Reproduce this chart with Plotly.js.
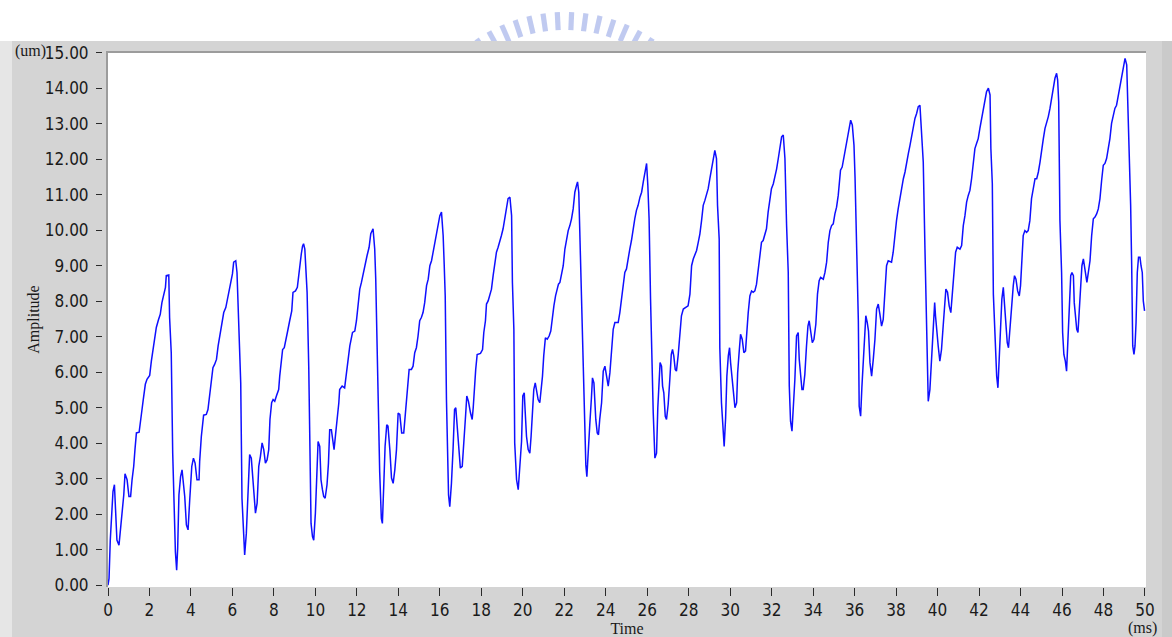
<!DOCTYPE html>
<html>
<head>
<meta charset="utf-8">
<script src="https://cdn.plot.ly/plotly-3.0.1.min.js"></script>
<style>
  html, body { margin: 0; padding: 0; background: #ffffff; }
  #chart { width: 1172px; height: 637px; }
</style>
</head>
<body>
<div id="chart"></div>
<script>
// Displacement record: time in ms, amplitude in um
const timeMs = [
  0.00, 0.05, 0.11, 0.18, 0.24, 0.31, 0.37, 0.43, 0.53, 0.59, 0.68, 0.76, 0.82, 0.92, 1.01, 1.09, 1.16, 1.24, 1.30, 1.37,
  1.50, 1.56, 1.64, 1.70, 1.80, 1.88, 2.01, 2.09, 2.17, 2.25, 2.33, 2.43, 2.52, 2.60, 2.68, 2.77, 2.81, 2.93, 2.97, 3.05,
  3.12, 3.18, 3.25, 3.31, 3.36, 3.42, 3.50, 3.57, 3.62, 3.70, 3.78, 3.86, 3.94, 4.04, 4.12, 4.20, 4.29, 4.39, 4.42, 4.50,
  4.61, 4.74, 4.82, 4.90, 4.98, 5.06, 5.14, 5.23, 5.31, 5.39, 5.47, 5.58, 5.68, 5.76, 5.84, 5.92, 6.00, 6.06, 6.16, 6.22,
  6.32, 6.40, 6.46, 6.53, 6.59, 6.67, 6.77, 6.83, 6.91, 6.98, 7.04, 7.11, 7.19, 7.27, 7.35, 7.43, 7.51, 7.59, 7.67, 7.75,
  7.81, 7.89, 7.96, 8.04, 8.12, 8.23, 8.28, 8.34, 8.42, 8.50, 8.60, 8.68, 8.76, 8.86, 8.92, 9.04, 9.13, 9.20, 9.28, 9.32,
  9.38, 9.43, 9.49, 9.60, 9.68, 9.73, 9.79, 9.86, 9.92, 10.00, 10.05, 10.13, 10.21, 10.27, 10.34, 10.40, 10.47, 10.56, 10.63, 10.69,
  10.77, 10.85, 10.90, 10.98, 11.06, 11.13, 11.17, 11.29, 11.41, 11.49, 11.58, 11.66, 11.79, 11.90, 11.98, 12.06, 12.14, 12.22, 12.30, 12.38,
  12.49, 12.59, 12.67, 12.78, 12.86, 12.91, 12.98, 13.06, 13.10, 13.18, 13.23, 13.30, 13.36, 13.44, 13.50, 13.59, 13.67, 13.75, 13.83, 13.91,
  13.99, 14.07, 14.16, 14.26, 14.36, 14.44, 14.52, 14.63, 14.71, 14.79, 14.87, 14.95, 15.03, 15.11, 15.19, 15.27, 15.36, 15.44, 15.52, 15.60,
  15.68, 15.76, 15.84, 15.92, 16.00, 16.08, 16.16, 16.21, 16.26, 16.32, 16.37, 16.42, 16.48, 16.56, 16.64, 16.71, 16.77, 16.83, 16.91, 16.99,
  17.08, 17.16, 17.24, 17.30, 17.38, 17.48, 17.56, 17.61, 17.66, 17.73, 17.80, 17.96, 18.06, 18.12, 18.20, 18.25, 18.33, 18.41, 18.49, 18.57,
  18.65, 18.73, 18.81, 18.89, 18.97, 19.05, 19.13, 19.21, 19.29, 19.38, 19.46, 19.50, 19.57, 19.61, 19.70, 19.78, 19.86, 19.94, 20.00, 20.07,
  20.11, 20.18, 20.26, 20.34, 20.40, 20.47, 20.53, 20.60, 20.66, 20.74, 20.82, 20.87, 20.95, 21.01, 21.09, 21.18, 21.27, 21.35, 21.42, 21.50,
  21.58, 21.66, 21.72, 21.79, 21.87, 21.95, 22.03, 22.11, 22.19, 22.27, 22.35, 22.43, 22.51, 22.59, 22.64, 22.70, 22.75, 22.83, 22.91, 22.98,
  23.04, 23.09, 23.15, 23.23, 23.31, 23.36, 23.43, 23.47, 23.52, 23.59, 23.65, 23.71, 23.80, 23.88, 23.96, 24.04, 24.12, 24.20, 24.28, 24.36,
  24.44, 24.60, 24.68, 24.76, 24.84, 24.92, 25.00, 25.08, 25.16, 25.24, 25.32, 25.40, 25.48, 25.56, 25.65, 25.73, 25.81, 25.89, 25.97, 26.03,
  26.09, 26.16, 26.22, 26.29, 26.37, 26.45, 26.51, 26.58, 26.62, 26.69, 26.74, 26.80, 26.87, 26.93, 27.01, 27.09, 27.16, 27.22, 27.28, 27.35,
  27.41, 27.49, 27.57, 27.65, 27.74, 27.86, 27.97, 28.06, 28.14, 28.22, 28.30, 28.38, 28.46, 28.54, 28.62, 28.70, 28.78, 28.86, 28.94, 29.02,
  29.10, 29.18, 29.26, 29.34, 29.39, 29.47, 29.50, 29.58, 29.66, 29.71, 29.78, 29.84, 29.91, 29.97, 30.02, 30.08, 30.15, 30.23, 30.31, 30.36,
  30.43, 30.50, 30.58, 30.66, 30.74, 30.79, 30.87, 30.95, 31.03, 31.11, 31.19, 31.27, 31.35, 31.43, 31.51, 31.59, 31.67, 31.75, 31.83, 31.91,
  31.99, 32.08, 32.16, 32.24, 32.32, 32.40, 32.48, 32.56, 32.64, 32.72, 32.80, 32.85, 32.91, 32.98, 33.04, 33.12, 33.20, 33.28, 33.33, 33.39,
  33.46, 33.52, 33.60, 33.68, 33.75, 33.81, 33.88, 33.96, 34.04, 34.13, 34.21, 34.29, 34.36, 34.49, 34.57, 34.65, 34.73, 34.81, 34.89, 34.97,
  35.05, 35.13, 35.21, 35.29, 35.32, 35.40, 35.48, 35.56, 35.65, 35.73, 35.81, 35.89, 35.97, 36.02, 36.10, 36.18, 36.22, 36.29, 36.35, 36.42,
  36.48, 36.54, 36.61, 36.67, 36.74, 36.82, 36.90, 36.98, 37.06, 37.14, 37.22, 37.30, 37.38, 37.46, 37.54, 37.62, 37.78, 37.86, 37.94, 38.02,
  38.10, 38.18, 38.26, 38.35, 38.43, 38.51, 38.59, 38.67, 38.75, 38.83, 38.91, 38.99, 39.07, 39.15, 39.23, 39.31, 39.39, 39.44, 39.50, 39.55,
  39.63, 39.71, 39.79, 39.86, 39.90, 39.95, 40.03, 40.11, 40.19, 40.27, 40.35, 40.40, 40.48, 40.56, 40.64, 40.71, 40.79, 40.87, 40.95, 41.08,
  41.16, 41.24, 41.32, 41.40, 41.48, 41.56, 41.64, 41.72, 41.80, 41.88, 41.96, 42.04, 42.12, 42.20, 42.28, 42.36, 42.45, 42.53, 42.57, 42.64,
  42.69, 42.77, 42.85, 42.91, 42.98, 43.04, 43.10, 43.17, 43.22, 43.28, 43.36, 43.42, 43.49, 43.57, 43.65, 43.71, 43.78, 43.86, 43.94, 44.00,
  44.07, 44.13, 44.21, 44.29, 44.37, 44.45, 44.53, 44.62, 44.70, 44.78, 44.86, 44.94, 45.02, 45.10, 45.18, 45.26, 45.34, 45.42, 45.50, 45.58,
  45.66, 45.74, 45.79, 45.84, 45.90, 45.98, 46.03, 46.09, 46.16, 46.22, 46.29, 46.35, 46.42, 46.48, 46.55, 46.59, 46.66, 46.71, 46.77, 46.83,
  46.90, 46.96, 47.03, 47.07, 47.14, 47.20, 47.27, 47.35, 47.43, 47.51, 47.59, 47.67, 47.75, 47.83, 47.91, 47.99, 48.07, 48.15, 48.23, 48.31,
  48.39, 48.47, 48.55, 48.63, 48.70, 48.79, 48.87, 48.95, 49.04, 49.12, 49.16, 49.23, 49.31, 49.36, 49.41, 49.47, 49.52, 49.57, 49.63, 49.69,
  49.76, 49.81, 49.87, 49.92, 49.98
];

const amplitudeUm = [
  0.00, 0.19, 1.27, 2.12, 2.64, 2.83, 2.12, 1.27, 1.13, 1.46, 1.93, 2.54, 3.14, 2.97, 2.50, 2.50, 2.97, 3.35, 3.82, 4.29,
  4.31, 4.67, 4.95, 5.23, 5.66, 5.80, 5.91, 6.31, 6.64, 6.93, 7.26, 7.47, 7.63, 7.96, 8.15, 8.39, 8.72, 8.74, 7.54, 6.55,
  3.72, 2.07, 0.94, 0.42, 1.04, 2.54, 3.06, 3.25, 2.92, 2.50, 1.70, 1.56, 2.40, 3.35, 3.58, 3.44, 2.97, 2.97, 3.49, 4.19,
  4.79, 4.81, 4.95, 5.37, 5.66, 6.13, 6.22, 6.36, 6.74, 7.04, 7.40, 7.68, 7.82, 8.06, 8.34, 8.58, 8.77, 9.10, 9.14, 8.81,
  6.93, 5.70, 2.45, 1.37, 0.85, 1.46, 2.78, 3.68, 3.58, 2.97, 2.50, 2.03, 2.31, 3.35, 3.63, 4.01, 3.82, 3.44, 3.53, 3.82,
  4.67, 5.14, 5.23, 5.18, 5.33, 5.51, 5.89, 6.27, 6.64, 6.69, 6.93, 7.21, 7.45, 7.73, 8.25, 8.29, 8.39, 8.81, 9.10, 9.33,
  9.55, 9.62, 9.47, 8.25, 6.13, 4.48, 1.74, 1.37, 1.27, 2.03, 2.69, 4.05, 3.91, 2.97, 2.69, 2.50, 2.45, 2.83, 3.44, 4.38,
  4.38, 4.01, 3.82, 4.29, 4.71, 5.14, 5.51, 5.61, 5.56, 5.98, 6.27, 6.74, 7.12, 7.16, 7.45, 7.96, 8.34, 8.53, 8.77, 9.05,
  9.28, 9.52, 9.90, 10.04, 9.47, 8.62, 6.46, 4.85, 3.20, 1.88, 1.74, 2.87, 3.91, 4.52, 4.48, 3.82, 3.02, 2.87, 3.25, 3.82,
  4.85, 4.81, 4.29, 4.29, 5.04, 5.51, 6.08, 6.08, 6.17, 6.55, 6.69, 7.02, 7.45, 7.54, 7.68, 7.96, 8.44, 8.62, 9.00, 9.14,
  9.38, 9.61, 9.85, 10.08, 10.41, 10.51, 9.85, 9.05, 8.15, 5.23, 3.58, 2.54, 2.21, 2.87, 3.86, 4.95, 5.00, 4.48, 3.77, 3.30,
  3.35, 4.24, 4.76, 5.33, 5.18, 4.85, 4.67, 5.00, 5.56, 6.08, 6.50, 6.53, 6.64, 7.12, 7.45, 7.92, 8.01, 8.15, 8.34, 8.72,
  9.05, 9.38, 9.52, 9.66, 9.85, 10.04, 10.32, 10.56, 10.89, 10.93, 10.41, 8.53, 7.21, 4.01, 2.97, 2.69, 3.25, 4.05, 5.33, 5.42,
  4.95, 4.19, 3.82, 3.72, 4.19, 4.76, 5.51, 5.70, 5.51, 5.23, 5.14, 5.42, 5.89, 6.46, 6.97, 6.93, 7.02, 7.16, 7.54, 7.87,
  8.15, 8.39, 8.48, 8.53, 8.77, 9.00, 9.47, 9.75, 9.99, 10.13, 10.32, 10.60, 11.07, 11.26, 11.36, 11.07, 9.94, 7.68, 6.08, 4.10,
  3.39, 3.06, 3.82, 4.52, 5.28, 5.84, 5.70, 5.23, 4.67, 4.29, 4.24, 4.67, 5.14, 6.03, 6.17, 5.89, 5.61, 5.98, 6.50, 7.21,
  7.40, 7.40, 7.68, 8.06, 8.58, 8.81, 8.91, 9.14, 9.47, 9.71, 10.08, 10.32, 10.56, 10.70, 10.93, 11.07, 11.36, 11.64, 11.88, 11.26,
  10.32, 8.06, 6.36, 4.85, 3.58, 3.72, 5.00, 5.80, 6.27, 6.17, 5.61, 5.42, 4.76, 4.67, 5.09, 5.80, 6.50, 6.64, 6.46, 6.08,
  6.03, 6.46, 6.93, 7.59, 7.78, 7.82, 7.87, 8.20, 9.00, 9.19, 9.33, 9.43, 9.66, 9.90, 10.27, 10.70, 10.84, 10.98, 11.17, 11.45,
  11.69, 11.97, 12.25, 12.02, 10.70, 9.75, 6.69, 5.14, 4.19, 3.91, 4.71, 5.89, 6.46, 6.69, 6.27, 5.89, 5.42, 5.00, 5.14, 5.98,
  6.55, 7.07, 6.93, 6.55, 6.60, 7.12, 7.68, 8.15, 8.29, 8.25, 8.29, 8.48, 8.91, 9.19, 9.66, 9.71, 9.90, 10.04, 10.51, 10.89,
  11.17, 11.31, 11.50, 11.73, 12.02, 12.30, 12.63, 12.68, 12.02, 10.13, 8.81, 5.61, 4.62, 4.34, 4.85, 5.80, 7.02, 7.12, 6.36, 5.89,
  5.51, 5.51, 5.94, 6.74, 7.30, 7.45, 7.12, 6.83, 6.93, 7.35, 8.20, 8.58, 8.67, 8.62, 8.81, 9.10, 9.66, 9.99, 10.13, 10.18,
  10.46, 10.65, 10.98, 11.45, 11.69, 11.78, 12.02, 12.30, 12.54, 12.77, 13.10, 12.96, 12.39, 11.50, 9.14, 7.45, 5.04, 4.76, 5.56, 6.27,
  7.12, 7.59, 7.40, 7.16, 6.27, 5.89, 6.36, 6.93, 7.78, 7.92, 7.63, 7.30, 7.49, 8.20, 9.00, 9.14, 9.10, 9.38, 9.90, 10.27,
  10.60, 10.89, 11.12, 11.45, 11.64, 11.97, 12.16, 12.39, 12.68, 12.87, 13.15, 13.29, 13.48, 13.52, 12.82, 11.92, 9.52, 7.87, 6.36, 5.18,
  5.51, 6.36, 7.59, 7.96, 7.59, 7.21, 6.74, 6.31, 6.64, 7.30, 8.06, 8.34, 8.25, 7.87, 7.68, 8.25, 8.81, 9.38, 9.52, 9.47,
  9.57, 10.13, 10.41, 10.79, 10.98, 11.12, 11.45, 11.83, 12.30, 12.44, 12.58, 12.87, 13.15, 13.38, 13.67, 13.90, 14.00, 13.81, 12.30, 11.31,
  8.20, 6.74, 5.89, 5.56, 6.36, 7.30, 8.06, 8.39, 7.96, 7.30, 6.83, 6.69, 7.30, 7.87, 8.44, 8.72, 8.62, 8.29, 8.15, 8.44,
  9.14, 9.85, 9.99, 9.94, 9.99, 10.27, 10.89, 11.26, 11.45, 11.45, 11.64, 11.92, 12.30, 12.58, 12.87, 13.01, 13.20, 13.43, 13.71, 14.00,
  14.28, 14.42, 14.23, 13.62, 10.27, 8.81, 7.12, 6.50, 6.31, 6.03, 6.88, 7.68, 8.72, 8.81, 8.72, 7.96, 7.49, 7.21, 7.12, 7.68,
  8.44, 9.00, 9.19, 9.00, 8.72, 8.53, 8.81, 9.14, 9.85, 10.32, 10.37, 10.46, 10.60, 10.89, 11.40, 11.83, 11.88, 12.02, 12.30, 12.58,
  13.01, 13.24, 13.43, 13.52, 13.76, 14.04, 14.28, 14.61, 14.84, 14.66, 13.90, 12.11, 10.70, 9.00, 6.74, 6.50, 6.74, 7.40, 8.81, 9.24,
  9.24, 9.00, 8.81, 8.01, 7.73
];

// Axis ticks
const timeTicks = [0, 2, 4, 6, 8, 10, 12, 14, 16, 18, 20, 22, 24, 26, 28, 30, 32, 34, 36, 38, 40, 42, 44, 46, 48, 50];
const ampTicks = [0, 1, 2, 3, 4, 5, 6, 7, 8, 9, 10, 11, 12, 13, 14, 15];
const ampTickText = ampTicks.map(v => v.toFixed(2));

// Page geometry (pixels)
const W = 1172, H = 637;
const M = { l: 108, r: 26, t: 52, b: 50 };
const plotW = W - M.l - M.r;
const plotH = H - M.t - M.b;
const px = x => (x - M.l) / plotW;
const py = y => (H - M.b - y) / plotH;

const serif = '"Liberation Serif", "Times New Roman", serif';
const narrow = '"Liberation Sans Narrow", "Arial Narrow", "DejaVu Sans Condensed", sans-serif';

const shapes = [];

// Emblem mark peeking above the panel: radial bars along an arc
const cx = 565, cy = 170, rOut = 158, rIn = 140, halfW = 2.6;
for (let a = -34; a <= 34; a += 5.2) {
  const r = a * Math.PI / 180;
  const s = Math.sin(r), c = Math.cos(r);
  const ox = cx + rOut * s, oy = cy - rOut * c;
  const ix = cx + rIn * s, iy = cy - rIn * c;
  const nx = c * halfW, ny = s * halfW;
  const pts = [[ox - nx, oy - ny], [ox + nx, oy + ny], [ix + nx, iy + ny], [ix - nx, iy - ny]];
  const path = 'M ' + pts.map(p => px(p[0]).toFixed(5) + ',' + py(p[1]).toFixed(5)).join(' L ') + ' Z';
  shapes.push({ type: 'path', xref: 'paper', yref: 'paper', layer: 'below', path: path,
    fillcolor: 'rgba(140,158,228,0.55)', line: { width: 0 } });
}

// Grey instrument panel behind the plot
shapes.push({ type: 'rect', xref: 'paper', yref: 'paper', layer: 'below',
  x0: px(0), x1: px(W), y0: py(H), y1: py(41), fillcolor: '#d4d4d4', line: { width: 0 } });
shapes.push({ type: 'rect', xref: 'paper', yref: 'paper', layer: 'below',
  x0: px(0), x1: px(12), y0: py(H), y1: py(41), fillcolor: '#e6e6e6', line: { width: 0 } });
shapes.push({ type: 'rect', xref: 'paper', yref: 'paper', layer: 'below',
  x0: px(1162), x1: px(W), y0: py(H), y1: py(41), fillcolor: '#cacaca', line: { width: 0 } });
// White plotting field
shapes.push({ type: 'rect', xref: 'paper', yref: 'paper', layer: 'below',
  x0: 0, x1: 1, y0: 0, y1: 1, fillcolor: '#ffffff', line: { width: 0 } });

// Sunken border on the top and left of the plot area
shapes.push({ type: 'line', xref: 'paper', yref: 'paper', layer: 'above',
  x0: px(106), x1: 1, y0: py(52), y1: py(52), line: { color: '#9c9c9c', width: 2 } });
shapes.push({ type: 'line', xref: 'paper', yref: 'paper', layer: 'above',
  x0: px(107), x1: px(107), y0: 0, y1: py(51), line: { color: '#9c9c9c', width: 2 } });

const trace = {
  type: 'scatter',
  mode: 'lines',
  x: timeMs,
  y: amplitudeUm,
  xaxis: 'x',
  yaxis: 'y2',
  line: { color: '#0f0fff', width: 1.5 },
  hoverinfo: 'skip'
};

const layout = {
  width: W,
  height: H,
  margin: M,
  paper_bgcolor: '#ffffff',
  plot_bgcolor: '#ffffff',
  showlegend: false,
  xaxis: {
    range: [0, 50.05],
    tickvals: timeTicks,
    ticktext: timeTicks.map(String),
    ticks: 'outside',
    ticklen: 8,
    tickwidth: 1,
    tickcolor: '#2a2a2a',
    showgrid: false,
    zeroline: false,
    showline: false,
    tickfont: { family: narrow, size: 17, color: '#1a1a1a' },
    title: { text: 'Time', font: { family: serif, size: 16, color: '#1a1a1a' }, standoff: 2 }
  },
  yaxis: {
    range: [-0.05, 15.02],
    tickvals: ampTicks,
    showticklabels: false,
    ticks: '',
    showgrid: true,
    gridcolor: '#b3bcd6',
    gridwidth: 1.6,
    zeroline: false,
    showline: false
  },
  yaxis2: {
    overlaying: 'y',
    anchor: 'free',
    position: 0,
    shift: -6,
    range: [-0.05, 15.02],
    tickvals: ampTicks,
    ticktext: ampTickText,
    ticks: 'outside',
    ticklen: 6,
    tickwidth: 1,
    tickcolor: '#2a2a2a',
    ticklabelstandoff: 4,
    showgrid: false,
    zeroline: false,
    showline: false,
    tickfont: { family: narrow, size: 17, color: '#1a1a1a' },
    title: { text: 'Amplitude', font: { family: serif, size: 16, color: '#1a1a1a' }, standoff: 0 }
  },
  shapes: shapes,
  annotations: [
    { text: '(um)', xref: 'paper', yref: 'paper', x: px(30), y: py(51), xanchor: 'center', yanchor: 'middle',
      showarrow: false, font: { family: serif, size: 16, color: '#1a1a1a' } },
    { text: '(ms)', xref: 'paper', yref: 'paper', x: px(1142), y: py(628), xanchor: 'center', yanchor: 'middle',
      showarrow: false, font: { family: serif, size: 16, color: '#1a1a1a' } }
  ]
};

Plotly.newPlot('chart', [trace], layout, { staticPlot: true, displayModeBar: false });
</script>
</body>
</html>
